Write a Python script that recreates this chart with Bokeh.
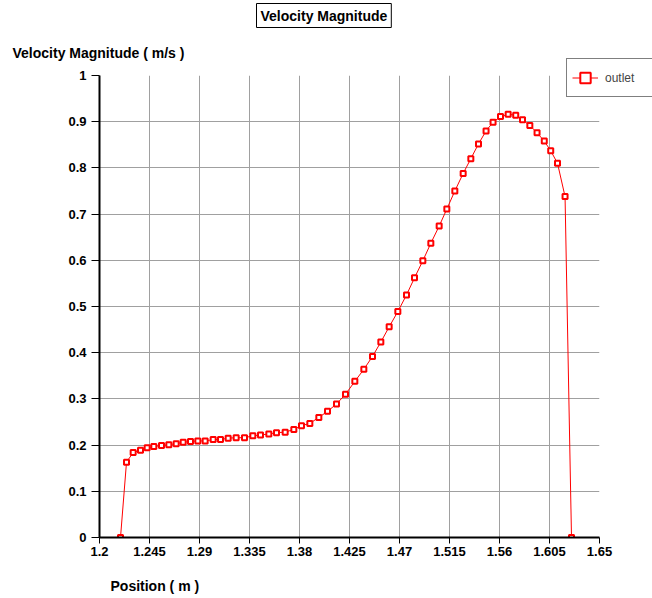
from bokeh.plotting import figure
from bokeh.models import Legend, LegendItem, FixedTicker, Range1d, Title
from bokeh.embed import file_html
from bokeh.resources import INLINE

# ---- data ----
position = [1.2189, 1.2243, 1.2303, 1.2369, 1.2429, 1.2489, 1.2558, 1.2624, 1.2690, 1.2753,
            1.2819, 1.2885, 1.2951, 1.3023, 1.3089, 1.3158, 1.3230, 1.3305, 1.3380, 1.3449,
            1.3524, 1.3593, 1.3671, 1.3749, 1.3818, 1.3893, 1.3974, 1.4052, 1.4133, 1.4214,
            1.4298, 1.4379, 1.4457, 1.4532, 1.4607, 1.4685, 1.4763, 1.4835, 1.4910, 1.4982,
            1.5057, 1.5126, 1.5198, 1.5273, 1.5342, 1.5411, 1.5479, 1.5542, 1.5609, 1.5678,
            1.5746, 1.5807, 1.5873, 1.5938, 1.6003, 1.6061, 1.6122, 1.6190, 1.6248]
velocity = [0.0, 0.163, 0.184, 0.189, 0.194, 0.197, 0.199, 0.201, 0.203, 0.206,
            0.208, 0.209, 0.209, 0.212, 0.212, 0.215, 0.216, 0.216, 0.220, 0.222,
            0.224, 0.227, 0.228, 0.234, 0.242, 0.247, 0.260, 0.273, 0.289, 0.310,
            0.338, 0.364, 0.392, 0.423, 0.456, 0.489, 0.525, 0.562, 0.599, 0.637,
            0.674, 0.711, 0.750, 0.788, 0.820, 0.852, 0.880, 0.899, 0.911, 0.916,
            0.914, 0.904, 0.892, 0.876, 0.858, 0.837, 0.810, 0.738, 0.0]

x_ticks = [1.2, 1.245, 1.29, 1.335, 1.38, 1.425, 1.47, 1.515, 1.56, 1.605, 1.65]
x_tick_labels = ["1.2", "1.245", "1.29", "1.335", "1.38", "1.425", "1.47", "1.515", "1.56", "1.605", "1.65"]
y_ticks = [0.0, 0.1, 0.2, 0.3, 0.4, 0.5, 0.6, 0.7, 0.8, 0.9, 1.0]
y_tick_labels = ["0", "0.1", "0.2", "0.3", "0.4", "0.5", "0.6", "0.7", "0.8", "0.9", "1"]

title_text = "Velocity Magnitude"
y_label_text = "Velocity Magnitude ( m/s )"
x_label_text = "Position ( m )"
series_name = "outlet"

FONT = "Liberation Sans"

p = figure(frame_width=500, frame_height=462, output_backend="svg", toolbar_location=None,
           x_range=Range1d(1.2, 1.65), y_range=Range1d(0, 1),
           min_border_left=99, min_border_right=0, min_border_top=75, min_border_bottom=61)
p.title = None
p.outline_line_color = None
p.background_fill_color = "white"
p.border_fill_color = "white"

for ax, ticks, labels in ((p.xaxis[0], x_ticks, x_tick_labels), (p.yaxis[0], y_ticks, y_tick_labels)):
    ax.ticker = FixedTicker(ticks=ticks)
    ax.major_label_overrides = {t: l for t, l in zip(ticks, labels)}
    ax.minor_tick_line_color = None
    ax.axis_line_color = "black"
    ax.axis_line_width = 2
    ax.major_tick_line_color = "black"
    ax.major_tick_line_width = 1
    ax.major_tick_in = 0
    ax.major_label_text_font = FONT
    ax.major_label_text_font_style = "bold"
    ax.major_label_text_font_size = "13px"
    ax.major_label_text_color = "black"

p.xaxis.major_tick_out = 6
p.xaxis.major_label_standoff = 3
p.yaxis.major_tick_out = 8
p.yaxis.major_label_standoff = 5

p.xgrid.ticker = FixedTicker(ticks=x_ticks)
p.ygrid.ticker = FixedTicker(ticks=y_ticks)
p.grid.grid_line_color = "#a0a0a0"
p.grid.grid_line_width = 1

line_r = p.line(position, velocity, line_color="#ff0000", line_width=1)
pts_r = p.scatter(position, velocity, marker="square", size=5, line_color="#ff0000",
                  line_width=2, fill_color="white")

legend = Legend(items=[LegendItem(label=series_name, renderers=[line_r, pts_r])],
                location=(-33, 440), margin=0, padding=5, glyph_width=26, glyph_height=27,
                label_standoff=7, label_width=60, label_text_font=FONT, label_text_font_size="12px",
                border_line_color="black", border_line_width=1,
                background_fill_color="white", background_fill_alpha=1.0)
p.add_layout(legend, "right")

# above panel: inner = y label, outer = title
ylab = Title(text=y_label_text, align="left", offset=-87, standoff=30, vertical_align="bottom",
             text_font=FONT, text_font_style="bold", text_font_size="14px", text_color="black")
p.add_layout(ylab, "above")

ttl = Title(text=title_text, align="left", offset=157, standoff=0, vertical_align="bottom",
            text_font=FONT, text_font_style="bold", text_font_size="14px", text_color="black",
            border_line_color="black", border_line_width=1, background_fill_color="white",
            padding=4)
p.add_layout(ttl, "above")

xlab = Title(text=x_label_text, align="left", offset=11, standoff=34, vertical_align="bottom",
             text_font=FONT, text_font_style="bold", text_font_size="14px", text_color="black")
p.add_layout(xlab, "below")

open("out.html", "w").write(file_html(p, INLINE))
